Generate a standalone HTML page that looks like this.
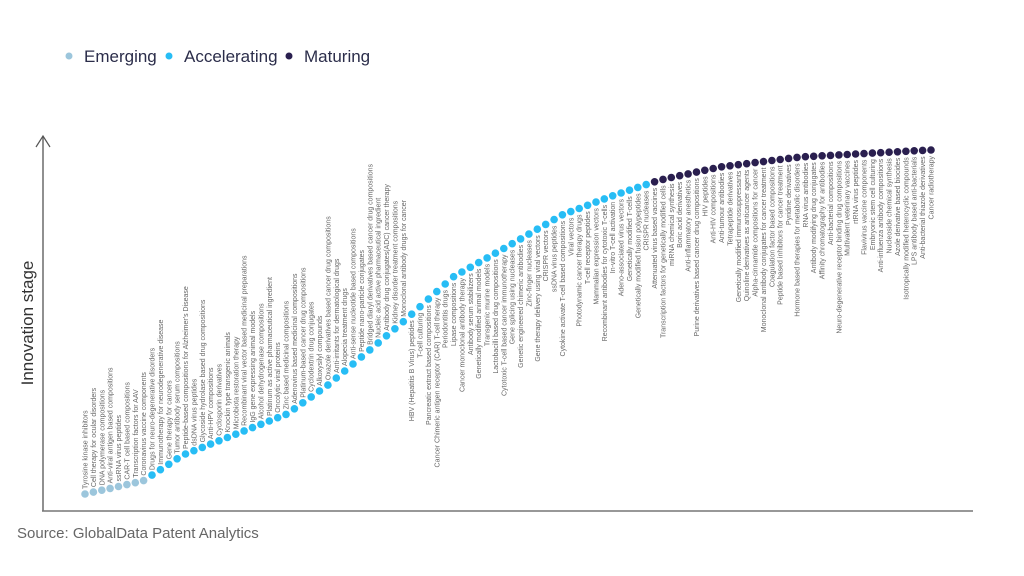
<!DOCTYPE html>
<html><head><meta charset="utf-8"><style>
html,body{margin:0;padding:0;background:#fff;width:1024px;height:576px;overflow:hidden}
svg{display:block}
text{font-family:"Liberation Sans",sans-serif}
</style></head><body>
<svg id="s" width="1024" height="576" xmlns="http://www.w3.org/2000/svg">
<circle cx="69" cy="56" r="3.5" fill="#9cc6dc"/>
<text x="84" y="62" font-size="17" fill="#2b2d4a">Emerging</text>
<circle cx="169" cy="56" r="3.5" fill="#27bdf5"/>
<text x="184" y="62" font-size="17" fill="#2b2d4a">Accelerating</text>
<circle cx="289" cy="56" r="3.5" fill="#2a1f4f"/>
<text x="304" y="62" font-size="17" fill="#2b2d4a">Maturing</text>
<line x1="43" y1="136" x2="43" y2="511" stroke="#555" stroke-width="1.3"/>
<polyline points="36,147 43,136 50,147" fill="none" stroke="#555" stroke-width="1.2"/>
<line x1="42" y1="511" x2="973" y2="511" stroke="#777" stroke-width="1.5"/>
<text transform="translate(33,323) rotate(-90)" text-anchor="middle" font-size="17" fill="#333">Innovation stage</text>
<text x="17" y="538" font-size="15" fill="#666">Source: GlobalData Patent Analytics</text>
<g id="g"></g>
</svg>
<script>
var L=["Tyrosine kinase inhibitors","Cell therapy for ocular disorders","DNA polymerase compositions","Anti-viral antigen based compositions","ssRNA virus peptides","CAR-T cell based compositions","Transcription factors for AAV","Coronavirus vaccine components","Drugs for neuro-degenerative disorders","Immunotherapy for neurodegenerative disease","Gene therapy for cancers","Tumor antibody serum compositions","Peptide-based compositions for Alzheimer's Disease","dsDNA virus peptides","Glycoside hydrolase based drug compositions","Anti-HPV compositions","Cyclosporin derivatives","Knockin type transgenic animals","Microbiota restoration therapy","Recombinant viral vector based medicinal preparations","IgG gene expressing animal models","Alcohol dehydrogenase compositions","Platinum as active pharmaceutical ingredient","Oncolytic viral proteins","Zinc based medicinal compositions","Adenovirus based medicinal compositions","Platinum-based cancer drug compositions","Cyclodextrin drug conjugates","Alkoxysilyl compounds","Oxazole derivatives based cancer drug compositions","Anti-irritants for dermatological drugs","Alopecia treatment drugs","Anti-sense nucleotide based compositions","Peptide nano-particle conjugates","Bridged diaryl derivatives based cancer drug compositions","Nucleic acid active pharmaceutical ingredient","Antibody drug conjugates(ADC) cancer therapy","Kidney disorder treatment compositions","Monoclonal antibody drugs for cancer",
"HBV (Hepatitis B Virus) peptides","T-cell culturing","Pancreatic extract based compositions","Cancer Chimeric antigen receptor (CAR) T-cell therapy","Periodontitis drugs","Lipase compositions","Cancer monoclonal antibody therapy","Antibody serum stabilizers","Genetically modified animal models","Transgenic murine models","Lactobacilli based drug compositions","Cytotoxic T-cell based cancer immunotherapy","Gene splicing using nucleases","Genetic engineered chimeric antibodies","Zinc-finger nucleases","Gene therapy delivery using viral vectors","CRISPR vectors","ssDNA virus peptides","Cytokine activate T-cell based compositions","Viral vectors","Photodynamic cancer therapy drugs","T-cell receptor peptides","Mammalian expression vectors","Recombinant antibodies for cytotoxic T-cells","In-vitro T-cell activation","Adeno-associated virus vectors","Genetically modified T-cells","Genetically modified fusion polypeptides","CRISPR nucleases","Attenuated virus based vaccines","Transcription factors for genetically modified cells","miRNA chemical synthesis","Boric acid derivatives","Anti-inflammatory anesthetics","Purine derivatives based cancer drug compositions","HIV peptides","Anti-HIV compositions","Anti-tumour antibodies","Tetrapeptide derivatives","Genetically modified immunosuppressants","Quinoline derivatives as anticancer agents","Alpha-cinnamide compositions for cancer","Monoclonal antibody conjugates for cancer treatment","Coagulation factor based compositions","Peptide based inhibitors for cancer treatment","Pyridine derivatives","Hormone based therapies for metabolic disorders","RNA virus antibodies","Antibody modifying drug conjugates","Affinity chromatography for antibodies","Anti-bacterial compositions","Neuro-degenerative receptor binding drug compositions","Multivalent veterinary vaccines","rtRNA virus peptides","Flavivirus vaccine components","Embryonic stem cell culturing","Anti-influenza antibody compositions","Nucleoside chemical synthesis","Azole derivative based biocides","Isotropically modified heterocyclic compounds","LPS antibody based anti-bacterials","Anti-bacterial thiazole derivatives","Cancer radiotherapy"];
var P=[[85,494],[143,481],[183,455],[287,414],[328,385],[403,322],[453,277],[510,245],[562,215],[612,196],[660,180],[720,167],[800,157],[930,150]];
function Y(x){for(var i=0;i<P.length-1;i++){if(x<=P[i+1][0]){var t=(x-P[i][0])/(P[i+1][0]-P[i][0]);return P[i][1]+t*(P[i+1][1]-P[i][1]);}}return P[P.length-1][1];}
var g=document.getElementById('g'),h='';
var n=L.length,sp=(931-85)/(n-1);
for(var i=0;i<n;i++){var x=85+i*sp,y=Y(x);
var c=i<8?'#9cc6dc':(i<68?'#27bdf5':'#2a1f4f');
h+='<circle cx="'+x.toFixed(1)+'" cy="'+y.toFixed(1)+'" r="3.8" fill="'+c+'"/>';
var t=L[i].replace(/&/g,'&amp;').replace(/</g,'&lt;');
if(i<39){h+='<text transform="translate('+(x+2.5).toFixed(1)+','+(y-5).toFixed(1)+') rotate(-90)" font-size="7" fill="#666">'+t+'</text>';}
else{h+='<text transform="translate('+(x+2.5).toFixed(1)+','+(y+6).toFixed(1)+') rotate(-90)" text-anchor="end" font-size="7" fill="#666">'+t+'</text>';}
}
g.innerHTML=h;
</script>
</body></html>
